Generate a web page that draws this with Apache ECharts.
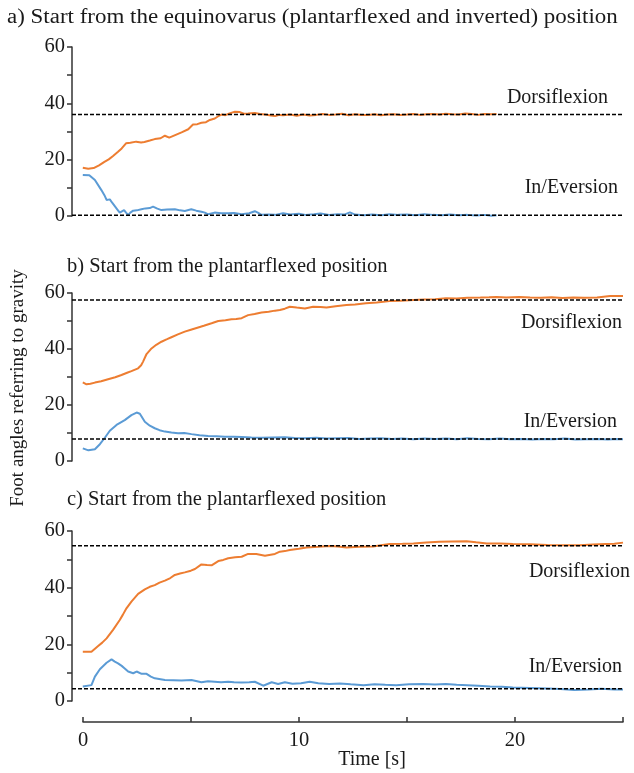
<!DOCTYPE html>
<html>
<head>
<meta charset="utf-8">
<script src="https://cdn.jsdelivr.net/npm/echarts@6/dist/echarts.min.js"></script>
<style>
  html, body { margin: 0; padding: 0; background: #fff; }
  #chart { width: 634px; height: 773px; }
</style>
</head>
<body>
<div id="chart"></div>
<script>
// panel titles
var panelTitles = [
  'a) Start from the equinovarus (plantarflexed and inverted) position',
  'b) Start from the plantarflexed position',
  'c) Start from the plantarflexed position'
];

// [time s, angle deg]
var dorsiA = [[0,17.1],[0.25,16.8],[0.5,17.0],[0.75,18.0],[1.0,19.2],[1.2,20.1],[1.4,21.3],[1.63,22.8],[1.8,24.0],[2.0,25.8],[2.2,26.0],[2.47,26.4],[2.7,26.1],[2.85,26.3],[3.1,26.8],[3.33,27.3],[3.6,27.6],[3.8,28.5],[4.0,27.8],[4.3,28.8],[4.57,29.7],[4.88,30.8],[5.1,32.5],[5.3,32.6],[5.49,33.1],[5.7,33.3],[5.88,34.1],[6.11,34.6],[6.3,35.6],[6.42,36.0],[6.6,35.8],[6.73,36.2],[6.9,36.7],[7.04,37.0],[7.27,36.9],[7.45,36.3],[7.65,36.4],[7.96,36.6],[8.2,36.2],[8.43,36.0],[8.7,35.7],[8.9,35.5],[9.1,35.9],[9.27,35.8],[9.6,36.0],[9.9,35.6],[10.2,36.0],[10.5,35.7],[10.8,35.9],[11.1,36.2],[11.4,35.9],[11.7,36.0],[12.0,36.3],[12.3,35.8],[12.6,36.1],[12.9,35.9],[13.2,35.9],[13.5,36.1],[13.8,35.8],[14.1,36.0],[14.4,36.1],[14.7,35.9],[15.0,36.0],[15.3,36.2],[15.6,35.9],[15.9,36.1],[16.2,36.2],[16.5,36.0],[16.8,36.3],[17.1,36.1],[17.4,36.0],[17.7,36.4],[18.0,36.2],[18.3,35.9],[18.6,36.2],[18.9,36.1],[19.15,36.2]];
var inevA = [[0,14.6],[0.3,14.5],[0.56,12.8],[0.86,9.2],[1.0,7.4],[1.1,5.7],[1.25,5.9],[1.35,4.8],[1.48,3.5],[1.6,2.3],[1.71,1.2],[1.8,1.5],[1.91,2.1],[2.0,1.2],[2.1,0.4],[2.2,1.2],[2.33,1.9],[2.5,2.0],[2.71,2.4],[2.9,2.7],[3.1,2.8],[3.25,3.3],[3.45,2.6],[3.64,2.1],[3.9,2.3],[4.26,2.4],[4.5,2.0],[4.72,1.8],[5.02,2.4],[5.25,1.9],[5.49,1.5],[5.65,1.2],[5.8,0.6],[6.1,1.2],[6.4,1.0],[6.73,1.0],[7.0,1.1],[7.35,0.6],[7.7,1.0],[7.96,1.7],[8.1,1.2],[8.27,0.4],[8.6,0.5],[8.9,0.4],[9.27,1.0],[9.6,0.5],[10.0,0.8],[10.3,0.4],[10.7,0.6],[11.0,0.9],[11.4,0.4],[11.8,0.6],[12.1,0.5],[12.36,1.3],[12.6,0.5],[13.0,0.3],[13.4,0.5],[13.8,0.3],[14.2,0.6],[14.6,0.4],[15.0,0.5],[15.4,0.3],[15.8,0.6],[16.2,0.4],[16.6,0.3],[17.0,0.5],[17.4,0.3],[17.8,0.4],[18.2,0.2],[18.6,0.4],[18.9,0.1],[19.15,0.3]];

var dorsiB = [[0,28.1],[0.17,27.4],[0.35,27.6],[0.56,28.0],[0.85,28.5],[1.17,29.2],[1.5,29.9],[1.79,30.7],[2.05,31.5],[2.25,32.1],[2.56,33.1],[2.7,34.2],[2.79,35.5],[2.95,38.2],[3.18,40.2],[3.4,41.5],[3.64,42.6],[3.9,43.5],[4.1,44.2],[4.4,45.2],[4.72,46.2],[5.0,46.9],[5.34,47.7],[5.6,48.3],[5.96,49.2],[6.27,50.0],[6.6,50.3],[6.88,50.6],[7.1,50.7],[7.35,51.0],[7.65,52.1],[7.95,52.5],[8.27,53.0],[8.6,53.3],[8.89,53.7],[9.12,53.9],[9.35,54.4],[9.58,55.1],[9.9,54.8],[10.28,54.5],[10.66,55.1],[11.0,55.0],[11.28,54.8],[11.7,55.3],[12.2,55.7],[12.6,55.9],[13.1,56.3],[13.6,56.6],[14.2,57.1],[14.7,57.2],[15.3,57.5],[15.8,57.7],[16.3,57.8],[16.8,58.1],[17.3,58.0],[17.8,58.3],[18.4,58.4],[18.8,58.5],[19.15,58.6],[19.6,58.4],[20.2,58.6],[20.7,58.4],[21.2,58.3],[21.7,58.5],[22.2,58.2],[22.7,58.4],[23.2,58.3],[23.8,58.4],[24.1,58.7],[24.4,58.9],[25,58.9]];
var inevB = [[0,4.5],[0.26,3.8],[0.56,4.2],[0.79,6.0],[1.02,8.3],[1.25,10.8],[1.56,12.9],[1.94,14.6],[2.25,16.4],[2.49,17.3],[2.64,16.9],[2.87,14.0],[3.1,12.6],[3.33,11.7],[3.55,11.0],[3.8,10.5],[4.1,10.2],[4.41,9.9],[4.7,10.0],[5.03,9.6],[5.4,9.2],[5.8,8.9],[6.2,8.8],[6.57,8.7],[7.0,8.7],[7.35,8.6],[7.8,8.4],[8.27,8.3],[8.8,8.4],[9.35,8.5],[9.8,8.2],[10.3,8.1],[10.8,8.3],[11.3,8.0],[11.8,8.1],[12.3,8.2],[12.8,7.9],[13.3,8.0],[13.8,8.1],[14.3,7.9],[14.8,8.0],[15.3,7.8],[15.8,8.0],[16.3,7.9],[16.8,8.0],[17.3,7.8],[17.8,8.1],[18.3,7.9],[18.8,7.8],[19.3,8.0],[19.8,7.8],[20.3,7.9],[20.8,7.7],[21.3,7.9],[21.8,7.8],[22.3,8.0],[22.8,7.7],[23.3,7.8],[23.8,7.9],[24.3,7.7],[24.7,7.9],[25,7.8]];

var dorsiC = [[0,17.4],[0.4,17.4],[0.71,19.4],[0.9,20.6],[1.1,22.1],[1.4,25.1],[1.71,28.6],[1.85,30.4],[2.02,32.7],[2.25,35.1],[2.56,37.8],[2.87,39.4],[3.1,40.3],[3.33,40.9],[3.55,41.8],[3.8,42.5],[4.05,43.4],[4.26,44.5],[4.5,45.0],[4.72,45.4],[5.0,46.0],[5.19,46.6],[5.49,48.2],[5.75,48.0],[5.96,47.9],[6.27,49.4],[6.5,49.8],[6.73,50.4],[7.05,50.7],[7.35,50.9],[7.65,51.9],[8.03,51.9],[8.43,51.3],[8.89,51.9],[9.12,52.7],[9.35,52.9],[9.58,53.3],[10.0,53.7],[10.35,54.2],[10.9,54.4],[11.43,54.7],[11.8,54.5],[12.2,54.2],[12.8,54.4],[13.44,54.5],[13.8,55.0],[14.2,55.4],[14.8,55.5],[15.3,55.6],[15.9,55.9],[16.5,56.2],[17.1,56.3],[17.76,56.4],[18.2,56.0],[18.7,55.6],[19.3,55.6],[19.9,55.4],[20.7,55.3],[21.5,55.1],[22.2,55.0],[23.0,55.0],[23.6,55.2],[24.2,55.4],[24.6,55.5],[25,55.9]];
var inevC = [[0,5.1],[0.4,5.6],[0.56,8.6],[0.79,11.2],[1.1,13.5],[1.33,14.7],[1.48,13.9],[1.63,13.3],[1.8,12.4],[1.94,11.5],[2.1,10.4],[2.33,9.8],[2.49,10.4],[2.72,9.6],[2.95,9.6],[3.15,8.6],[3.33,8.0],[3.8,7.4],[4.2,7.3],[4.57,7.2],[5.03,7.4],[5.49,6.6],[5.8,7.0],[6.1,6.8],[6.4,6.6],[6.73,6.8],[7.0,6.6],[7.35,6.5],[7.7,6.6],[7.96,6.8],[8.35,5.4],[8.74,6.6],[9.04,6.0],[9.35,6.6],[9.7,6.1],[10.1,6.3],[10.5,6.8],[10.9,6.3],[11.4,6.0],[11.9,6.2],[12.4,5.9],[13.0,5.6],[13.5,5.9],[14.0,5.7],[14.5,5.6],[15.1,5.9],[15.75,6.0],[16.3,5.8],[16.8,6.0],[17.3,5.7],[17.8,5.6],[18.3,5.4],[18.85,5.1],[19.4,5.0],[19.9,4.8],[20.7,4.6],[21.5,4.4],[22.1,4.2],[22.75,3.9],[23.4,4.1],[24.0,4.3],[24.6,4.1],[25,4.1]];

// steady-state reference levels (dashed)
var dorsiRef = [36, 57.5, 54.8];
var inevRef = [0.3, 7.9, 4.3];

var yTicks = [0, 20, 40, 60];
var xTicks = [0, 10, 20];

var FONT = '"Liberation Serif", "Times New Roman", serif';
var TXT = '#1a1a1a';
var ORANGE = '#ED7D31';
var BLUE = '#5B9BD5';

var chart = echarts.init(document.getElementById('chart'));

var grids = [
  { left: 72, right: 11, top: 47, height: 169 },
  { left: 72, right: 11, top: 293, height: 168 },
  { left: 72, right: 11, top: 531, height: 170 },
  { left: 83, right: 11, top: 721, height: 1 }   // time axis only
];

var xAxes = [], yAxes = [];
for (var i = 0; i < 3; i++) {
  xAxes.push({ gridIndex: i, type: 'value', min: -0.5, max: 25, show: false });
  yAxes.push({
    gridIndex: i, type: 'value', min: 0, max: 60, interval: 10,
    axisLine: { show: true, onZero: false, lineStyle: { color: '#333', width: 1.5 } },
    axisTick: { show: true, length: 5, lineStyle: { color: '#333', width: 1.5 } },
    axisLabel: {
      margin: 7, color: TXT, fontFamily: FONT, fontSize: 20.5,
      formatter: function (v) { return yTicks.indexOf(v) >= 0 ? v : ''; }
    },
    splitLine: { show: false }
  });
}
xAxes.push({
  gridIndex: 3, type: 'value', min: 0, max: 25, interval: 5,
  axisLine: { show: true, onZero: false, lineStyle: { color: '#333', width: 1.5 } },
  axisTick: { show: true, inside: true, length: 5, lineStyle: { color: '#333', width: 1.5 } },
  axisLabel: {
    margin: 8, color: TXT, fontFamily: FONT, fontSize: 20.5, showMaxLabel: true,
    formatter: function (v) { return xTicks.indexOf(v) >= 0 ? v : ''; }
  },
  splitLine: { show: false }
});
yAxes.push({ gridIndex: 3, type: 'value', show: false });

var curves = [[dorsiA, inevA], [dorsiB, inevB], [dorsiC, inevC]];
var series = [];
curves.forEach(function (pair, i) {
  series.push({ type: 'line', xAxisIndex: i, yAxisIndex: i, data: pair[0], showSymbol: false,
    lineStyle: { color: ORANGE, width: 2 }, z: 2 });
  series.push({ type: 'line', xAxisIndex: i, yAxisIndex: i, data: pair[1], showSymbol: false,
    lineStyle: { color: BLUE, width: 2 }, z: 2 });
  [dorsiRef[i], inevRef[i]].forEach(function (r) {
    series.push({ type: 'line', xAxisIndex: i, yAxisIndex: i, data: [[-0.5, r], [25, r]],
      showSymbol: false, silent: true,
      lineStyle: { color: '#000', width: 1.5, type: [4, 2] }, z: 3 });
  });
});

function label(text, x, y, align, size, rot, sx) {
  return {
    type: 'text', x: x, y: y, rotation: rot || 0, scaleX: sx || 1,
    style: { text: text, font: size + 'px ' + FONT, fill: TXT,
      textAlign: align, textVerticalAlign: 'middle' }
  };
}

var option = {
  animation: false,
  backgroundColor: '#fff',
  grid: grids,
  xAxis: xAxes,
  yAxis: yAxes,
  series: series,
  graphic: [
    label(panelTitles[0], 7, 18, 'left', 20.5, 0, 1.12),
    label(panelTitles[1], 67, 267, 'left', 20.5),
    label(panelTitles[2], 67, 500, 'left', 20.5),
    label('Dorsiflexion', 608, 98, 'right', 20),
    label('In/Eversion', 618, 188, 'right', 20),
    label('Dorsiflexion', 622, 323, 'right', 20),
    label('In/Eversion', 617, 422, 'right', 20),
    label('Dorsiflexion', 630, 572, 'right', 20),
    label('In/Eversion', 622, 667, 'right', 20),
    label('Time [s]', 372, 760, 'center', 20),
    label('Foot angles referring to gravity', 18, 388, 'center', 19, Math.PI / 2)
  ]
};

chart.setOption(option);
</script>
</body>
</html>
